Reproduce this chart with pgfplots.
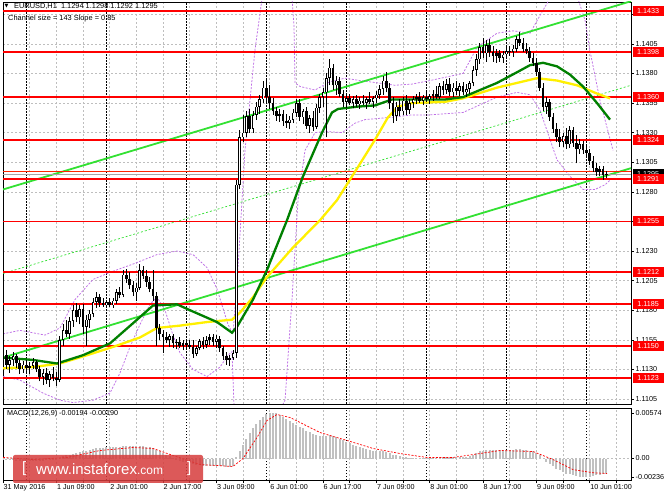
\documentclass[border=0pt]{standalone}
\usepackage{pgfplots}
\pgfplotsset{compat=1.18}
\usepackage{pgfplotstable}
\usepackage{fontspec}
\setmainfont{Liberation Sans}
\newfontfamily\symfont{DejaVu Sans}

\definecolor{mtgreen}{RGB}{0,128,0}
\definecolor{mtlime}{RGB}{50,225,50}
\definecolor{mtyellow}{RGB}{255,240,0}
\definecolor{mtviolet}{RGB}{190,110,230}
\definecolor{mtgrid}{RGB}{190,190,190}
\definecolor{mthist}{RGB}{192,192,192}
\definecolor{banner}{RGB}{214,60,60}

% hourly candles, EURUSD H1 (h = bar index from 31 May 17:00)
\pgfplotstableread{
h o hi lo c
0 1.1178 1.1181 1.1138 1.1142
1 1.1142 1.1146 1.1130 1.1134
2 1.1134 1.1141 1.1127 1.1138
3 1.1138 1.1145 1.1133 1.1141
4 1.1141 1.1143 1.1131 1.1135
5 1.1135 1.1138 1.1126 1.1130
6 1.1130 1.1137 1.1127 1.1134
7 1.1134 1.1138 1.1128 1.1131
8 1.1131 1.1136 1.1126 1.1133
9 1.1133 1.1140 1.1130 1.1136
10 1.1136 1.1138 1.1128 1.1130
11 1.1130 1.1133 1.1120 1.1124
12 1.1124 1.1130 1.1117 1.1127
13 1.1127 1.1131 1.1118 1.1121
14 1.1121 1.1129 1.1115 1.1126
15 1.1126 1.1132 1.1120 1.1123
16 1.1123 1.1128 1.1116 1.1121
17 1.1121 1.1158 1.1119 1.1155
18 1.1155 1.1168 1.1150 1.1163
19 1.1163 1.1172 1.1157 1.1160
20 1.1160 1.1174 1.1156 1.1171
21 1.1171 1.1184 1.1166 1.1180
22 1.1180 1.1186 1.1170 1.1174
23 1.1174 1.1184 1.1168 1.1181
24 1.1181 1.1185 1.1160 1.1166
25 1.1166 1.1176 1.1150 1.1172
26 1.1172 1.1180 1.1165 1.1177
27 1.1177 1.1190 1.1174 1.1187
28 1.1187 1.1195 1.1182 1.1191
29 1.1191 1.1194 1.1183 1.1186
30 1.1186 1.1190 1.1183 1.1184
31 1.1184 1.1189 1.1182 1.1187
32 1.1187 1.1190 1.1183 1.1184
33 1.1184 1.1190 1.1182 1.1188
34 1.1188 1.1198 1.1185 1.1195
35 1.1195 1.1200 1.1190 1.1193
36 1.1193 1.1214 1.1191 1.1210
37 1.1210 1.1215 1.1203 1.1206
38 1.1206 1.1212 1.1198 1.1201
39 1.1201 1.1205 1.1192 1.1195
40 1.1195 1.1203 1.1188 1.1199
41 1.1199 1.1219 1.1197 1.1214
42 1.1214 1.1217 1.1206 1.1209
43 1.1209 1.1214 1.1200 1.1204
44 1.1204 1.1208 1.1195 1.1198
45 1.1198 1.1214 1.1188 1.1192
46 1.1192 1.1195 1.1150 1.1165
47 1.1165 1.1168 1.1155 1.1160
48 1.1160 1.1163 1.1144 1.1157
49 1.1157 1.1162 1.1152 1.1155
50 1.1155 1.1160 1.1149 1.1158
51 1.1158 1.1160 1.1148 1.1152
52 1.1152 1.1156 1.1147 1.1153
53 1.1153 1.1157 1.1148 1.1150
54 1.1150 1.1155 1.1146 1.1152
55 1.1152 1.1156 1.1147 1.1151
56 1.1151 1.1155 1.1147 1.1149
57 1.1149 1.1155 1.1140 1.1143
58 1.1143 1.1150 1.1141 1.1148
59 1.1148 1.1156 1.1146 1.1154
60 1.1154 1.1157 1.1147 1.1151
61 1.1151 1.1158 1.1148 1.1155
62 1.1155 1.1160 1.1151 1.1157
63 1.1157 1.1160 1.1150 1.1153
64 1.1153 1.1159 1.1148 1.1156
65 1.1156 1.1158 1.1145 1.1148
66 1.1148 1.1150 1.1138 1.1141
67 1.1141 1.1145 1.1134 1.1138
68 1.1138 1.1142 1.1133 1.1140
69 1.1140 1.1146 1.1138 1.1144
70 1.1144 1.1290 1.1140 1.1286
71 1.1286 1.1332 1.1282 1.1326
72 1.1326 1.1345 1.1322 1.1330
73 1.1330 1.1348 1.1326 1.1344
74 1.1344 1.1350 1.1330 1.1333
75 1.1333 1.1348 1.1330 1.1345
76 1.1345 1.1356 1.1341 1.1352
77 1.1352 1.1362 1.1346 1.1358
78 1.1358 1.1374 1.1355 1.1368
79 1.1368 1.1376 1.1356 1.1360
80 1.1360 1.1370 1.1350 1.1355
81 1.1355 1.1359 1.1345 1.1348
82 1.1348 1.1352 1.1340 1.1344
83 1.1344 1.1350 1.1339 1.1346
84 1.1346 1.1349 1.1336 1.1340
85 1.1340 1.1346 1.1334 1.1338
86 1.1338 1.1344 1.1333 1.1341
87 1.1341 1.1350 1.1338 1.1347
88 1.1347 1.1358 1.1343 1.1355
89 1.1355 1.1358 1.1340 1.1343
90 1.1343 1.1350 1.1337 1.1348
91 1.1348 1.1352 1.1333 1.1336
92 1.1336 1.1345 1.1330 1.1342
93 1.1342 1.1348 1.1331 1.1335
94 1.1335 1.1354 1.1333 1.1351
95 1.1351 1.1363 1.1347 1.1360
96 1.1360 1.1368 1.1352 1.1364
97 1.1364 1.1380 1.1326 1.1376
98 1.1376 1.1392 1.1370 1.1385
99 1.1385 1.1388 1.1366 1.1370
100 1.1370 1.1378 1.1362 1.1374
101 1.1374 1.1377 1.1360 1.1363
102 1.1363 1.1366 1.1352 1.1356
103 1.1356 1.1362 1.1351 1.1359
104 1.1359 1.1363 1.1353 1.1355
105 1.1355 1.1361 1.1351 1.1358
106 1.1358 1.1362 1.1352 1.1354
107 1.1354 1.1360 1.1350 1.1357
108 1.1357 1.1362 1.1353 1.1355
109 1.1355 1.1360 1.1350 1.1358
110 1.1358 1.1364 1.1354 1.1356
111 1.1356 1.1361 1.1351 1.1359
112 1.1359 1.1365 1.1355 1.1362
113 1.1362 1.1370 1.1358 1.1367
114 1.1367 1.1378 1.1362 1.1374
115 1.1374 1.1381 1.1364 1.1368
116 1.1368 1.1372 1.1350 1.1355
117 1.1355 1.1360 1.1338 1.1344
118 1.1344 1.1356 1.1340 1.1352
119 1.1352 1.1358 1.1344 1.1348
120 1.1348 1.1360 1.1345 1.1357
121 1.1357 1.1362 1.1345 1.1349
122 1.1349 1.1358 1.1346 1.1355
123 1.1355 1.1361 1.1351 1.1358
124 1.1358 1.1363 1.1354 1.1360
125 1.1360 1.1364 1.1355 1.1357
126 1.1357 1.1362 1.1353 1.1360
127 1.1360 1.1365 1.1356 1.1358
128 1.1358 1.1363 1.1354 1.1361
129 1.1361 1.1366 1.1357 1.1363
130 1.1363 1.1369 1.1358 1.1360
131 1.1360 1.1372 1.1358 1.1369
132 1.1369 1.1374 1.1362 1.1366
133 1.1366 1.1375 1.1363 1.1371
134 1.1371 1.1376 1.1361 1.1364
135 1.1364 1.1372 1.1360 1.1368
136 1.1368 1.1374 1.1362 1.1365
137 1.1365 1.1372 1.1361 1.1369
138 1.1369 1.1373 1.1362 1.1364
139 1.1364 1.1371 1.1360 1.1367
140 1.1367 1.1374 1.1363 1.1372
141 1.1372 1.1386 1.1369 1.1383
142 1.1383 1.1396 1.1378 1.1392
143 1.1392 1.1406 1.1388 1.1402
144 1.1402 1.1410 1.1393 1.1397
145 1.1397 1.1408 1.1390 1.1404
146 1.1404 1.1409 1.1394 1.1398
147 1.1398 1.1403 1.1390 1.1395
148 1.1395 1.1401 1.1389 1.1397
149 1.1397 1.1400 1.1390 1.1393
150 1.1393 1.1399 1.1389 1.1396
151 1.1396 1.1402 1.1392 1.1399
152 1.1399 1.1403 1.1395 1.1398
153 1.1398 1.1404 1.1394 1.1401
154 1.1401 1.1412 1.1398 1.1409
155 1.1409 1.1415 1.1403 1.1406
156 1.1406 1.1410 1.1398 1.1401
157 1.1401 1.1406 1.1396 1.1399
158 1.1399 1.1402 1.1390 1.1393
159 1.1393 1.1397 1.1386 1.1389
160 1.1389 1.1393 1.1378 1.1381
161 1.1381 1.1385 1.1365 1.1368
162 1.1368 1.1372 1.1348 1.1352
163 1.1352 1.1360 1.1346 1.1356
164 1.1356 1.1358 1.1340 1.1343
165 1.1343 1.1347 1.1330 1.1333
166 1.1333 1.1338 1.1322 1.1326
167 1.1326 1.1333 1.1318 1.1322
168 1.1322 1.1330 1.1318 1.1327
169 1.1327 1.1334 1.1316 1.1320
170 1.1320 1.1336 1.1317 1.1332
171 1.1332 1.1335 1.1318 1.1321
172 1.1321 1.1328 1.1304 1.1316
173 1.1316 1.1325 1.1312 1.1320
174 1.1320 1.1323 1.1312 1.1315
175 1.1315 1.1320 1.1310 1.1313
176 1.1313 1.1316 1.1303 1.1306
177 1.1306 1.1310 1.1297 1.1300
178 1.1300 1.1304 1.1293 1.1297
179 1.1297 1.1302 1.1293 1.1299
180 1.1299 1.1302 1.1290 1.1294
181 1.1294 1.1298 1.1292 1.1295
}\candles

\pgfplotsset{
  mt/.style={
    scale only axis, width=628bp,
    xmin=0, xmax=188.4,
    clip mode=individual,
    axis line style={black, line width=0.6bp},
    tick align=outside, major tick length=3bp,
    tick style={black, line width=0.5bp},
    scaled ticks=false,
    xtick={0,8,...,184},
    xmajorgrids,
    major grid style={mtgrid, dash pattern=on 2bp off 2bp, line width=0.5bp},
    extra x ticks={7,31,55,79,103,127,151,175},
    extra x tick labels={},
    extra x tick style={grid=major, major tick length=0pt,
      major grid style={black, dash pattern=on 1.5bp off 1.5bp, line width=0.6bp}},
    ytick pos=right, yticklabel pos=right,
    yticklabel style={anchor=west, inner xsep=1.5bp},
    tick label style={font=\fontsize{7.2bp}{8bp}\selectfont, text=black},
  },
  lvl/.style={red, line width=1.8bp},
  band/.style={mtviolet, dash pattern=on 2bp off 1.5bp, line width=0.75bp},
}

\begin{document}
\begin{tikzpicture}[x=1bp, y=1bp]
\path[use as bounding box, fill=white] (0bp,0bp) rectangle (664bp,498bp);

% ---------- price panel ----------
\begin{axis}[mt, name=price,
  at={(3bp,94bp)}, anchor=south west, height=402bp,
  ymin=1.110079, ymax=1.144035,
  xticklabels={}, xtick pos=bottom, x tick style={draw=none},
  ytick={1.1105,1.1130,1.1155,1.1180,1.1205,1.1230,1.1255,1.1280,1.1305,1.1330,1.1355,1.1380,1.1405,1.1430},
  yticklabels={1.1105,1.1130,1.1155,1.1180,1.1205,1.1230,1.1255,1.1280,1.1305,1.1330,1.1355,1.1380,1.1405,1.1430},
  ymajorgrids,
]
% Bollinger style bands
\addplot[band] coordinates {
 (0,1.1160) (5.1,1.1163) (12.6,1.1159) (17.1,1.1165) (21.6,1.1189) (27,1.1206)
 (32.1,1.1212) (39,1.1219) (46.2,1.1227) (52.2,1.1230) (57,1.1227) (61.2,1.1216)
 (64.2,1.1198) (67.5,1.1168) (69,1.1160) (70.5,1.1216) (72.6,1.1315) (75.6,1.1400)
 (77.7,1.1443) (86.7,1.1443) (87.3,1.1420) (87.6,1.1372) (89.1,1.1369) (93.6,1.1366)
 (98.1,1.1373) (102.6,1.1376) (107.1,1.1374) (112.5,1.1372) (117.6,1.1370) (122.7,1.1371)
 (128.1,1.1374) (138,1.1380) (142.2,1.1402) (148.2,1.1414) (153,1.1416) (158.1,1.1414)
 (161.1,1.1429) (164,1.1443) (172.5,1.1443) (174.6,1.1425) (176.1,1.1399) (179.1,1.1357)
 (183,1.1315)};
\addplot[band] coordinates {
 (0,1.1124) (5.1,1.1121) (12,1.1110) (17.1,1.1104) (21,1.1102) (27,1.1104)
 (32.1,1.1110) (35.1,1.1127) (38.1,1.1149) (41.1,1.1168) (44.1,1.1185) (46.2,1.1191)
 (48.6,1.1180) (51,1.1159) (53.1,1.1144) (57,1.1130) (61.2,1.1124) (65.1,1.1132)
 (67.5,1.1142) (68.7,1.1145) (69.3,1.1099) (83.7,1.1099) (84.6,1.1104) (86.7,1.1189)
 (88.5,1.1273) (90.6,1.1315) (93.6,1.1330) (96.6,1.1331) (101.7,1.1330) (105.6,1.1338)
 (108.6,1.1341) (116.7,1.1343) (122.7,1.1345) (128.1,1.1345) (138,1.1347) (148.2,1.1360)
 (154.2,1.1364) (158.1,1.1362) (161.1,1.1349) (166.2,1.1307) (170.1,1.1293) (174,1.1282)
 (177.6,1.1282) (180.6,1.1286) (183,1.1292)};
% regression channel
\addplot[mtlime, line width=1.8bp] coordinates {(0,1.1282) (188.4,1.1441)};
\addplot[mtlime, line width=1.8bp] coordinates {(0,1.1140) (188.4,1.1300)};
\addplot[mtlime, line width=0.7bp, dash pattern=on 2bp off 2bp] coordinates {(0,1.1211) (188.4,1.1370)};
% support / resistance levels
\addplot[lvl] coordinates {(0,1.1433) (188.4,1.1433)};
\addplot[lvl] coordinates {(0,1.1398) (188.4,1.1398)};
\addplot[lvl] coordinates {(0,1.1360) (188.4,1.1360)};
\addplot[lvl] coordinates {(0,1.1324) (188.4,1.1324)};
\addplot[lvl] coordinates {(0,1.1291) (188.4,1.1291)};
\addplot[lvl] coordinates {(0,1.1255) (188.4,1.1255)};
\addplot[lvl] coordinates {(0,1.1212) (188.4,1.1212)};
\addplot[lvl] coordinates {(0,1.1185) (188.4,1.1185)};
\addplot[lvl] coordinates {(0,1.1150) (188.4,1.1150)};
\addplot[lvl] coordinates {(0,1.1123) (188.4,1.1123)};
% ask / bid
\addplot[red!70!orange, line width=0.5bp] coordinates {(0,1.1297) (188.4,1.1297)};
\addplot[gray!70, line width=0.5bp] coordinates {(0,1.1295) (188.4,1.1295)};
% moving averages
\addplot[mtyellow, line width=2.3bp] coordinates {
 (0,1.1131) (9,1.1132) (17.1,1.1135) (25.2,1.1142) (33,1.1149) (41.1,1.1157)
 (46.2,1.1165) (53.1,1.1167) (61.2,1.1170) (68.7,1.1172) (71.1,1.1178) (75,1.1191)
 (79.2,1.1208) (87,1.1233) (95.1,1.1256) (100.2,1.1273) (106.5,1.1301) (111.6,1.1324)
 (115.5,1.1343) (118.5,1.1352) (122.7,1.1355) (132.6,1.1356) (138,1.1359) (148.2,1.1368)
 (154.2,1.1372) (160.2,1.1376) (166.2,1.1374) (172.2,1.1370) (178.2,1.1363) (182.1,1.1359)};
\addplot[mtgreen, line width=2.3bp] coordinates {
 (0,1.1140) (9,1.1138) (16.2,1.1135) (24,1.1142) (32.1,1.1152) (39,1.1169)
 (45,1.1184) (52.2,1.1185) (56.1,1.1180) (64.2,1.1170) (68.7,1.1161) (70.2,1.1166)
 (75,1.1189) (79.2,1.1214) (85.2,1.1256) (90,1.1293) (95.7,1.1330) (98.7,1.1347)
 (100.5,1.1350) (106.5,1.1352) (111.6,1.1353) (116.7,1.1358) (122.7,1.1358) (132.6,1.1358)
 (138,1.1360) (148.2,1.1372) (154.2,1.1381) (158.1,1.1387) (162,1.1389) (166.2,1.1386)
 (170.1,1.1379) (174,1.1369) (178.2,1.1355) (182.1,1.1341)};
% candles: wicks, bodies, hollow bull bodies
\addplot[draw=none, mark=none,
  error bars/.cd, y dir=plus, y explicit, error mark=none,
  error bar style={draw=black, line width=0.7bp}]
  table[x=h, y=lo, y error expr=\thisrow{hi}-\thisrow{lo}] {\candles};
\addplot[draw=none, mark=none,
  error bars/.cd, y dir=plus, y explicit, error mark=none,
  error bar style={draw=black, line width=2.5bp}]
  table[x=h, y expr={min(\thisrow{o},\thisrow{c})}, y error expr={abs(\thisrow{c}-\thisrow{o})}] {\candles};
\addplot[draw=none, mark=none,
  restrict expr to domain={\thisrow{c}-\thisrow{o}}{0.00025:1},
  error bars/.cd, y dir=plus, y explicit, error mark=none,
  error bar style={draw=white, line width=1.0bp}]
  table[x=h, y expr={\thisrow{o}+0.00006}, y error expr={\thisrow{c}-\thisrow{o}-0.00012}] {\candles};

\coordinate (la) at (axis cs:188.4,1.1433);
\coordinate (lb) at (axis cs:188.4,1.1398);
\coordinate (lc) at (axis cs:188.4,1.1360);
\coordinate (ld) at (axis cs:188.4,1.1324);
\coordinate (le) at (axis cs:188.4,1.1291);
\coordinate (lf) at (axis cs:188.4,1.1255);
\coordinate (lg) at (axis cs:188.4,1.1212);
\coordinate (lh) at (axis cs:188.4,1.1185);
\coordinate (li) at (axis cs:188.4,1.1150);
\coordinate (lj) at (axis cs:188.4,1.1123);
\coordinate (bid) at (axis cs:188.4,1.1295);
\end{axis}

% ---------- MACD panel ----------
\begin{axis}[mt,
  at={(3bp,18bp)}, anchor=south west, height=72bp,
  ymin=-0.00272, ymax=0.00639,
  xtick pos=bottom,
  xticklabels={31 May 2016,,1 Jun 09:00,,2 Jun 01:00,,2 Jun 17:00,,3 Jun 09:00,,6 Jun 01:00,,6 Jun 17:00,,7 Jun 09:00,,8 Jun 01:00,,8 Jun 17:00,,9 Jun 09:00,,10 Jun 01:00,},
  xticklabel style={anchor=north west, inner xsep=0.5bp, inner ysep=1.5bp},
  ytick={-0.00236,0,0.00574},
  yticklabels={-0.00236,0.00,0.00574},
]
\addplot[mtgrid, dash pattern=on 2bp off 2bp, line width=0.5bp] coordinates {(0,0) (188.4,0)};
\addplot[ycomb, mthist, line width=2.2bp] coordinates {
 (0,-0.0002) (1,-0.0002) (2,-0.0002) (3,-0.0002) (4,-0.0003) (5,-0.0003) (6,-0.0003) (7,-0.0003)
 (8,-0.0003) (9,-0.0003) (10,-0.0003) (11,-0.0003) (12,-0.0003) (13,-0.0002) (14,-0.0002) (15,-0.0001)
 (16,-0.0001) (17,0.0001) (18,0.0003) (19,0.0004) (20,0.0005) (21,0.0006) (22,0.0007) (23,0.0008)
 (24,0.0009) (25,0.0010) (26,0.0011) (27,0.0012) (28,0.0013) (29,0.0013) (30,0.0013) (31,0.0014)
 (32,0.0014) (33,0.0014) (34,0.0015) (35,0.0015) (36,0.0016) (37,0.0016) (38,0.0016) (39,0.0016)
 (40,0.0016) (41,0.0016) (42,0.0016) (43,0.0015) (44,0.0014) (45,0.0013) (46,0.0011) (47,0.0009)
 (48,0.0007) (49,0.0005) (50,0.0003) (51,0.0001) (52,-0.0001) (53,-0.0003) (54,-0.0004) (55,-0.0005)
 (56,-0.0006) (57,-0.0007) (58,-0.0008) (59,-0.0008) (60,-0.0009) (61,-0.0009) (62,-0.0009) (63,-0.0009)
 (64,-0.0009) (65,-0.0010) (66,-0.0010) (67,-0.0011) (68,-0.0011) (69,-0.0010) (70,0.0002) (71,0.0010)
 (72,0.0017) (73,0.0025) (74,0.0032) (75,0.0038) (76,0.0044) (77,0.0049) (78,0.0053) (79,0.0056)
 (80,0.0058) (81,0.0057) (82,0.0057) (83,0.0055) (84,0.0053) (85,0.0050) (86,0.0047) (87,0.0045)
 (88,0.0043) (89,0.0040) (90,0.0038) (91,0.0035) (92,0.0033) (93,0.0031) (94,0.0030) (95,0.0028)
 (96,0.0028) (97,0.0029) (98,0.0030) (99,0.0029) (100,0.0027) (101,0.0025) (102,0.0023) (103,0.0021)
 (104,0.0019) (105,0.0017) (106,0.0016) (107,0.0014) (108,0.0013) (109,0.0012) (110,0.0011) (111,0.0010)
 (112,0.0009) (113,0.0009) (114,0.0009) (115,0.0008) (116,0.0007) (117,0.0005) (118,0.0004) (119,0.0003)
 (120,0.0002) (121,0.0002) (122,0.0001) (123,0.0001) (124,0.0001) (125,0.0001) (126,0.0001) (127,0.0001)
 (128,0.0001) (129,0.0001) (130,0.0001) (131,0.0002) (132,0.0002) (133,0.0002) (134,0.0002) (135,0.0002)
 (136,0.0002) (137,0.0002) (138,0.0002) (139,0.0002) (140,0.0003) (141,0.0005) (142,0.0007) (143,0.0009)
 (144,0.0010) (145,0.0011) (146,0.0011) (147,0.0011) (148,0.0011) (149,0.0011) (150,0.0011) (151,0.0011)
 (152,0.0011) (153,0.0011) (154,0.0012) (155,0.0012) (156,0.0011) (157,0.0011) (158,0.0010) (159,0.0009)
 (160,0.0007) (161,0.0004) (162,0.0000) (163,-0.0004) (164,-0.0007) (165,-0.0010) (166,-0.0013) (167,-0.0015)
 (168,-0.0017) (169,-0.0019) (170,-0.0020) (171,-0.0021) (172,-0.0022) (173,-0.0023) (174,-0.0023) (175,-0.0023)
 (176,-0.0023) (177,-0.0022) (178,-0.0021) (179,-0.0021) (180,-0.0020) (181,-0.0019)};
\addplot[red, line width=0.7bp, dash pattern=on 2bp off 1.5bp] coordinates {
 (0,0.00013) (9,-0.00013) (19.2,0.00013) (29.1,0.00101) (39,0.00139) (45,0.00127)
 (51,0.00038) (59.1,-0.00076) (69,-0.00101) (72,0.0) (76.2,0.00266) (79.2,0.00481)
 (82.2,0.00557) (86.1,0.00519) (89.1,0.00456) (92.1,0.00392) (95.1,0.00329) (98.1,0.00291)
 (103.2,0.00228) (111,0.00127) (119.1,0.00063) (127.2,0.00013) (135,0.00013) (143.1,0.00063)
 (149.1,0.00101) (159,0.00089) (165,-0.00013) (171,-0.00140) (177,-0.00180) (181.2,-0.00190)};
\end{axis}

% ---------- labels on top ----------
\tikzset{lvlbox/.style={fill=red, text=white, anchor=west, inner xsep=2.5bp, inner ysep=0pt,
  minimum height=10bp, minimum width=31bp, xshift=1.5bp, font=\fontsize{7.2bp}{8bp}\selectfont}}
\node[lvlbox, fill=black] at (bid) {1.1295};
\foreach \n/\t in {la/1.1433, lb/1.1398, lc/1.1360, ld/1.1324, le/1.1291, lf/1.1255, lg/1.1212, lh/1.1185, li/1.1150, lj/1.1123}
  \node[lvlbox] at (\n) {\t};

\node[anchor=west, inner sep=0pt, font=\symfont\fontsize{5bp}{6bp}\selectfont] at (4.5bp,492bp) {▼};
\node[anchor=west, inner sep=0pt, font=\fontsize{7.4bp}{8bp}\selectfont] at (14bp,492bp) {EURUSD,H1\ \ 1.1294 1.1298 1.1292 1.1295};
\node[anchor=west, inner sep=0pt, font=\fontsize{7.4bp}{8bp}\selectfont] at (8bp,479bp) {Channel size = 143 Slope = 0.85};
\node[anchor=west, inner sep=0pt, font=\fontsize{7.2bp}{8bp}\selectfont] at (7bp,84bp) {MACD(12,26,9) -0.00194 -0.00190};

% watermark
\fill[banner, opacity=0.85, rounded corners=2bp] (13bp,15bp) rectangle (203bp,43bp);
\node[anchor=west, inner sep=0pt, text=white, font=\fontsize{15bp}{16bp}\selectfont] at (22bp,29.5bp) {[};
\node[anchor=west, inner sep=0pt, text=white, font=\fontsize{15bp}{16bp}\selectfont] at (36bp,29bp) {www.instaforex\fontsize{12bp}{13bp}\selectfont.com};
\node[anchor=west, inner sep=0pt, text=white, font=\fontsize{15bp}{16bp}\selectfont] at (187bp,29.5bp) {]};
\end{tikzpicture}
\end{document}
